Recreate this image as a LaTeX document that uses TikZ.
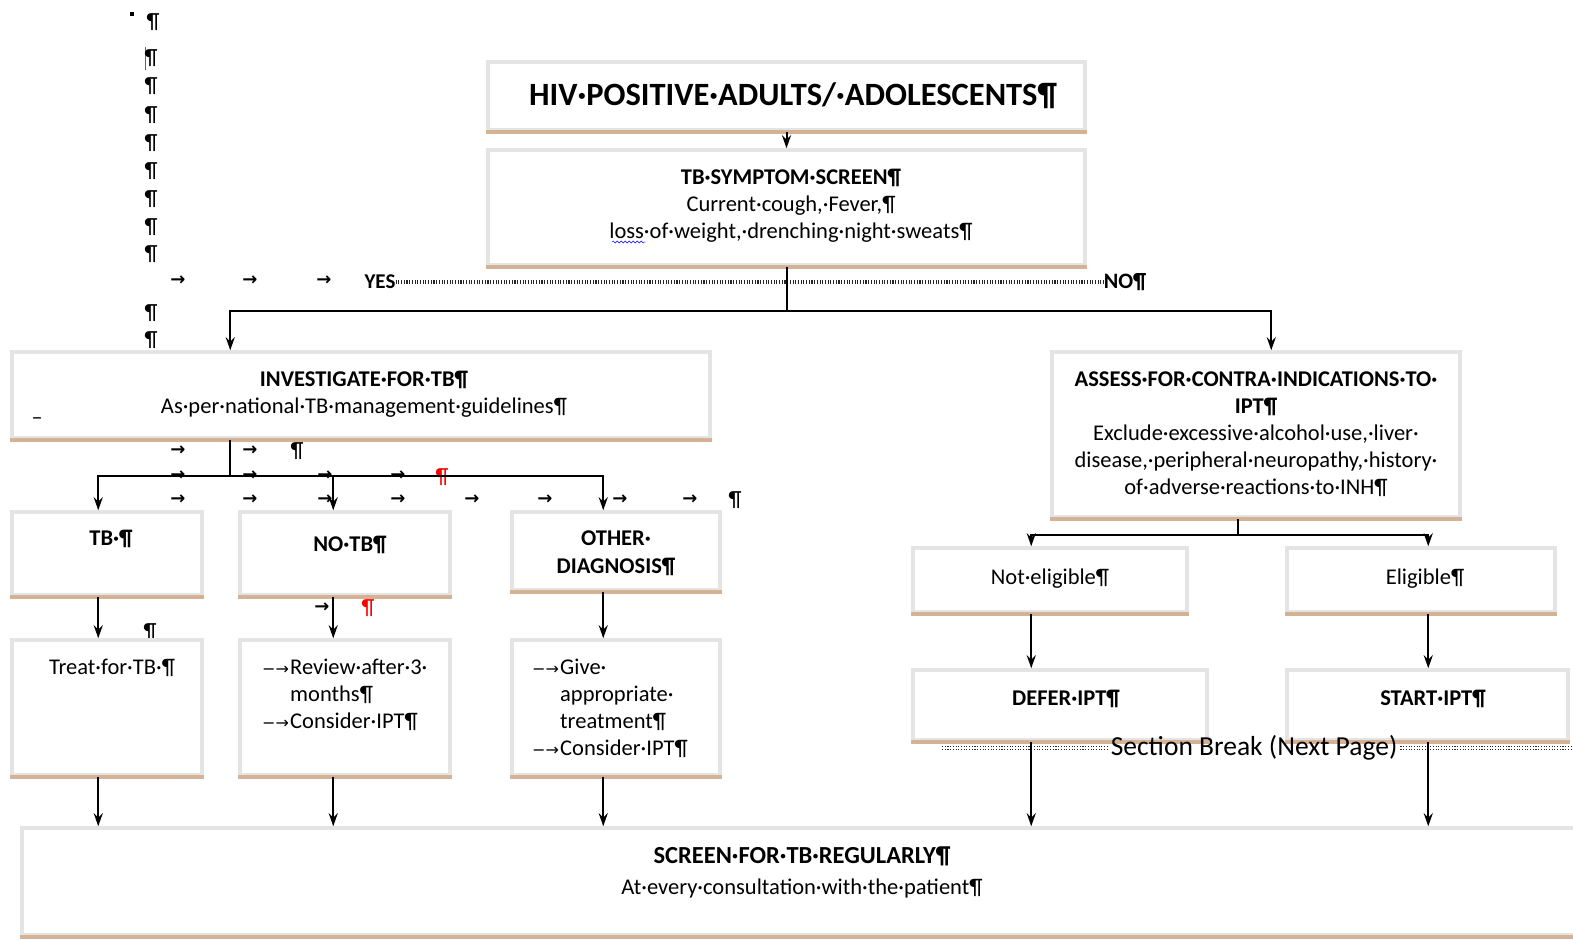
\documentclass[tikz,border=0pt]{standalone}
\usepackage{fontspec}
\setmainfont{Carlito}
\newfontfamily\symf{DejaVu Sans}
\usetikzlibrary{arrows.meta,decorations.pathmorphing}
\definecolor{tanline}{RGB}{214,178,148}
\definecolor{boxline}{RGB}{228,228,228}
\newcommand\tabar{\makebox[28pt][l]{\symf\fontsize{16}{16}\selectfont −→}}

\begin{document}
\begin{tikzpicture}[x=1pt,y=-1pt,>={Stealth[length=13pt,width=9pt]},
  box/.style={draw=boxline,line width=3.5pt,fill=white,inner sep=0pt},
  txt/.style={font=\fontsize{22.5}{27}\selectfont,align=center,inner sep=0pt,yshift=-4pt},
  btxt/.style={txt,font=\fontsize{22.5}{28}\selectfont\bfseries},
  mk/.style={font=\fontsize{22}{22}\selectfont,inner sep=0pt},
  tab/.style={font=\symf\bfseries\fontsize{18}{18}\selectfont,inner sep=0pt},
  conn/.style={line width=2pt},
  shade/.style={draw=tanline,line width=4pt},
  leader/.style={draw=black!85,line width=3.5pt,dash pattern=on 1.1pt off 1.6pt}]
\useasboundingbox (0,0) rectangle (1573,939);

% formatting marks
\node[mk] (m0) at (153,22) {¶};
\fill (130,12) rectangle (134,16);
\draw[black!60] (145,47) -- (145,70);
\foreach \y in {58,86,115,143,171,199,227,254,313,340}
  \node[mk] at (151,\y) {¶};
\foreach \x in {178,250,324}
  \node[tab] at (\x,281) {→};
\foreach \x in {178,250}
  \node[tab] at (\x,451) {→};
\node[mk] at (297,451) {¶};
\foreach \x in {178,250,325,398}
  \node[tab] at (\x,476) {→};
\node[mk,red] at (442,477) {¶};
\foreach \x in {178,250,325,398,472,545,620,690}
  \node[tab] at (\x,500) {→};
\node[mk] at (735,500) {¶};
\node[tab] at (322,608) {→};
\node[mk,red] at (368,608) {¶};
\node[mk] at (150,632) {¶};

% boxes
\node[box,minimum width=597,minimum height=68] (hiv) at (786.5,96) {};
\node[box,minimum width=597,minimum height=115] (tss) at (786.5,207.5) {};
\node[box,minimum width=698,minimum height=86] (inv) at (361,395) {};
\node[box,minimum width=190,minimum height=83] (tb) at (107,553.5) {};
\node[box,minimum width=210,minimum height=83] (notb) at (345,553.5) {};
\node[box,minimum width=208,minimum height=78] (oth) at (616,551) {};
\node[box,minimum width=190,minimum height=135] (treat) at (107,707.5) {};
\node[box,minimum width=210,minimum height=135] (rev) at (345,707.5) {};
\node[box,minimum width=208,minimum height=135] (give) at (616,707.5) {};
\node[box,minimum width=408,minimum height=165] (ass) at (1256,434.5) {};
\node[box,minimum width=274,minimum height=64] (nel) at (1050,580) {};
\node[box,minimum width=268,minimum height=64] (elig) at (1421,580) {};
\node[box,minimum width=294,minimum height=70] (defer) at (1060,705) {};
\node[box,minimum width=281,minimum height=70] (start) at (1427.5,705) {};
\node[box,minimum width=1568,minimum height=107] (scr) at (806,881.5) {};
\foreach \n in {hiv,tss,inv,tb,notb,oth,treat,rev,give,ass,nel,elig,defer,start,scr}
  \draw[shade] (\n.south west) -- (\n.south east);

% texts
\node[txt,font=\fontsize{32.5}{36}\selectfont\bfseries] (hiv-t) at (793,92) {HIV·POSITIVE·ADULTS/·ADOLESCENTS¶};
\node[txt] (tss-t) at (791,202) {\textbf{TB·SYMPTOM·SCREEN¶}\\Current·cough,·Fever,¶\\loss·of·weight,·drenching·night·sweats¶};
\draw[blue,decorate,decoration={snake,amplitude=1pt,segment length=4pt}] (612,242) -- (646,242);
\node[txt] (inv-t) at (364,390) {\textbf{INVESTIGATE·FOR·TB¶}\\As·per·national·TB·management·guidelines¶};
\node[mk] at (37,421) {–};
\node[btxt] (tb-t) at (111,535) {TB·¶};
\node[btxt] (notb-t) at (350,541) {NO·TB¶};
\node[btxt] (oth-t) at (616,549) {OTHER·\\DIAGNOSIS¶};
\node[txt] (treat-t) at (112,664) {Treat·for·TB·¶};
\node[txt,align=left,anchor=west] (rev-t) at (262,691) {\tabar Review·after·3·\\\hspace*{28pt}months¶\\\tabar Consider·IPT¶};
\node[txt,align=left,anchor=west] (give-t) at (532,704.5) {\tabar Give·\\\hspace*{28pt}appropriate·\\\hspace*{28pt}treatment¶\\\tabar Consider·IPT¶};
\node[txt] (ass-t) at (1256,430) {\textbf{ASSESS·FOR·CONTRA·INDICATIONS·TO·}\\\textbf{IPT¶}\\Exclude·excessive·alcohol·use,·liver·\\disease,·peripheral·neuropathy,·history·\\of·adverse·reactions·to·INH¶};
\node[txt] (nel-t) at (1050,575) {Not·eligible¶};
\node[txt] (elig-t) at (1425,575) {Eligible¶};
\node[btxt] (defer-t) at (1066,695) {DEFER·IPT¶};
\node[btxt] (start-t) at (1433,695) {START·IPT¶};
\node[txt,font=\fontsize{22.5}{31}\selectfont] (scr-t) at (802,868.5) {{\fontsize{24.5}{31}\selectfont\bfseries SCREEN·FOR·TB·REGULARLY¶}\\At·every·consultation·with·the·patient¶};

% yes / no leader
\node[btxt,font=\fontsize{21}{21}\selectfont\bfseries] (yes) at (380,278) {YES};
\node[btxt,font=\fontsize{22}{22}\selectfont\bfseries] (no) at (1125,278) {NO¶};
\draw[leader] (yes) -- (no);

% section break
\node[txt,font=\fontsize{27.5}{27.5}\selectfont,inner xsep=3pt] (sb) at (1254,744) {Section Break (Next Page)};
\coordinate (sbl) at (942,748);
\coordinate (sbr) at (1573,748);
\draw[leader,line width=1.5pt,double=white,double distance=1.5pt] (sbl) -- (sb);
\draw[leader,line width=1.5pt,double=white,double distance=1.5pt] (sb) -- (sbr);

% connectors
\draw[->,conn] (hiv) -- (tss);
\coordinate (ysplit) at ([yshift=-44pt]tss.south);
\draw[conn] (tss.south) -- (ysplit);
\draw[->,conn] (ysplit) -| ([xshift=220pt]inv.north west);
\draw[->,conn] (ysplit) -| ([xshift=221pt]ass.north west);

\coordinate (itop) at ([xshift=220pt]inv.south west);
\coordinate (isplit) at ([yshift=-36pt]itop);
\draw[conn] (itop) -- (isplit);
\draw[->,conn] (isplit) -| ([xshift=88pt]tb.north west);
\draw[->,conn] (isplit) -| ([xshift=95pt]notb.north west);
\draw[->,conn] (isplit) -| ([xshift=93pt]oth.north west);
\draw[->,conn] ([xshift=88pt]tb.south west) -- ([xshift=88pt]treat.north west);
\draw[->,conn] ([xshift=95pt]notb.south west) -- ([xshift=95pt]rev.north west);
\draw[->,conn] ([xshift=93pt]oth.south west) -- ([xshift=93pt]give.north west);

\coordinate (atop) at ([xshift=188pt]ass.south west);
\coordinate (asplit) at ([yshift=-16pt]atop);
\draw[conn] (atop) -- (asplit);
\draw[->,conn] (asplit) -| ([xshift=120pt]nel.north west);
\draw[->,conn] (asplit) -| ([xshift=143pt]elig.north west);
\draw[->,conn] ([xshift=120pt]nel.south west) -- ([xshift=120pt]defer.north west);
\draw[->,conn] ([xshift=143pt]elig.south west) -- ([xshift=143pt]start.north west);

\coordinate (c1) at ([xshift=88pt]treat.south west);
\coordinate (c2) at ([xshift=95pt]rev.south west);
\coordinate (c3) at ([xshift=93pt]give.south west);
\coordinate (c4) at ([xshift=120pt]defer.south west);
\coordinate (c5) at ([xshift=143pt]start.south west);
\foreach \c in {c1,c2,c3,c4,c5}
  \draw[->,conn] (\c) -- (\c |- scr.north);
\end{tikzpicture}
\end{document}
